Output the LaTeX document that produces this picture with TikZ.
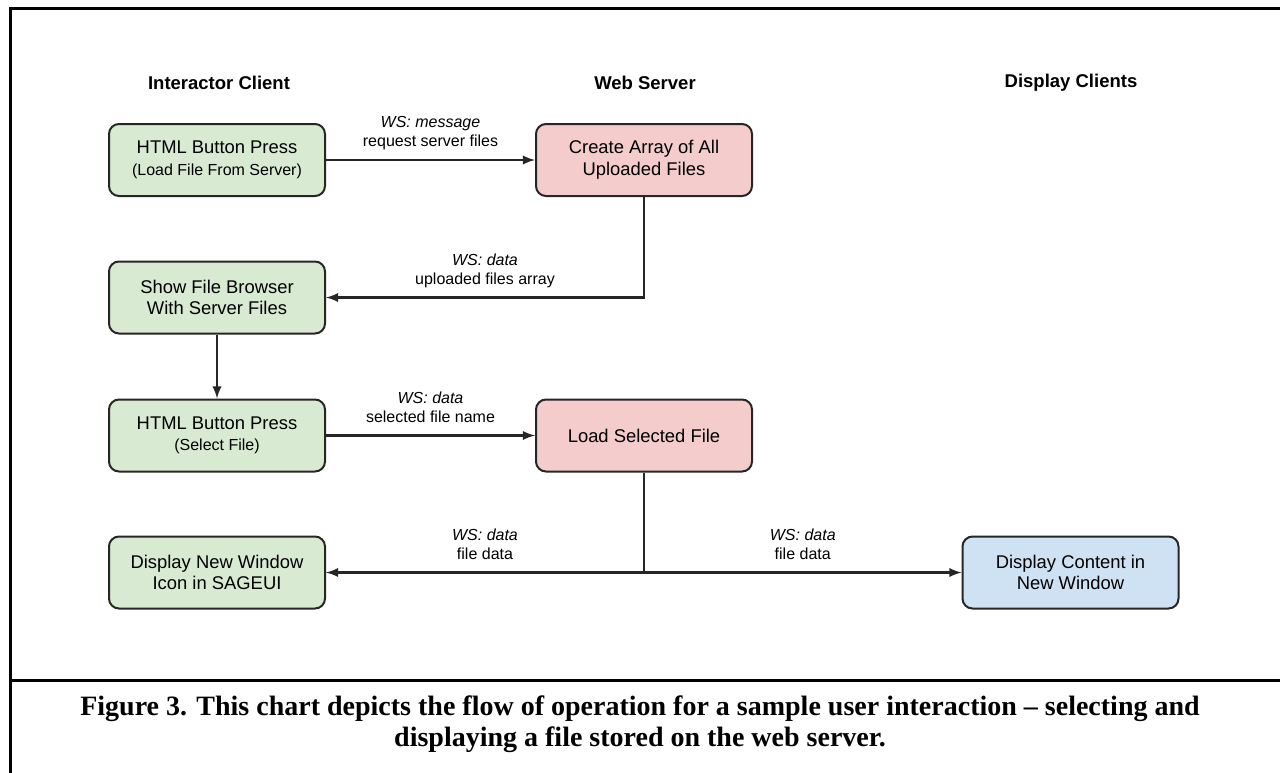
\documentclass[tikz,border=0pt]{standalone}
\usepackage{fontspec}
\setmainfont{Liberation Serif}
\setsansfont{Liberation Sans}
\usepackage{tikz}
\usetikzlibrary{positioning}
\usetikzlibrary{calc}
\usetikzlibrary{arrows}
\definecolor{client colour}{HTML}{D9EAD3}
\definecolor{server colour}{HTML}{F4CCCC}
\definecolor{display colour}{HTML}{CFE2F3}
\colorlet{line colour}{black!85}
\tikzset{
    % Plain triangular arrow heads, as in the chart
    >=latex,
%
    % Fills for the three columns
    client fill/.style={fill=client colour},
    server fill/.style={fill=server colour},
    display fill/.style={fill=display colour},
    % Lines between the boxes
    bus/.style={color=line colour, text=black, line width=1.1pt, ->},
    % Every node is centred
    every node/.style={align=center},
}

\begin{document}
\begin{tikzpicture}[
    box/.style={draw=line colour, rectangle, rounded corners=5pt, line width=1pt,
        minimum width=108pt, minimum height=36pt, inner sep=2pt,
        font=\sffamily\fontsize{9.2pt}{10.8pt}\selectfont},
    head label/.style={font=\sffamily\bfseries\fontsize{9.25pt}{11pt}\selectfont},
    ws label/.style={above=4.2pt, inner sep=0pt, text depth=2pt,
        font=\sffamily\fontsize{8pt}{9.5pt}\selectfont},
    frame/.style={line width=1.5pt, line cap=rect},
    x=0.5pt, y=-0.5pt,
]
\useasboundingbox (0,0) rectangle (1280,772);

% frame round the figure and its caption
\draw [frame] (1280,8) -- (10,8) -- (10,772);
\draw [frame] (10,680) -- (1280,680);

\path
    (217,160) node (load btn) [box, client fill]
        {HTML Button Press\\{\fontsize{8pt}{10pt}\selectfont (Load File From Server)}}
    +(427,0) node (create array) [box, server fill] {Create Array of All\\Uploaded Files}
    ++(0,137.5) node (file browser) [box, client fill] {Show File Browser\\With Server Files}
    ++(0,138) node (select btn) [box, client fill]
        {HTML Button Press\\{\fontsize{8pt}{10pt}\selectfont (Select File)}}
    +(427,0) node (load file) [box, server fill] {Load Selected File}
    ++(0,137) node (new icon) [box, client fill] {Display New Window\\Icon in SAGEUI}
    +(853.5,0) node (new window) [box, display fill] {Display Content in\\New Window};

\path
    (load btn) ++(2,-77) node (client head) [head label] {Interactor Client}
    (create array) ++(1,-77) node (server head) [head label] {Web Server}
    (new window) ++(0.5,-489.5) node (display head) [head label] {Display Clients};

\draw [bus] (load btn) -- node [ws label] {\itshape WS: message\\request server files}
    (create array);
\draw [bus] (create array) |- node [ws label, pos=0.75] {\itshape WS: data\\uploaded files array}
    (file browser);
\draw [bus] (file browser) -- (select btn);
\draw [bus] (select btn) -- node [ws label] {\itshape WS: data\\selected file name}
    (load file);

% the loaded file goes out to both sides
\draw [bus] (load file) |- node [ws label, pos=0.75] {\itshape WS: data\\file data}
    (new icon);
\draw [bus] (load file) |- node [ws label, pos=0.75] {\itshape WS: data\\file data}
    (new window);

\node (caption) at (640,724) [font=\bfseries\fontsize{14pt}{15.5pt}\selectfont]
    {Figure 3. This chart depicts the flow of operation for a sample user interaction -- selecting and\\
     displaying a file stored on the web server.};

\end{tikzpicture}
\end{document}
